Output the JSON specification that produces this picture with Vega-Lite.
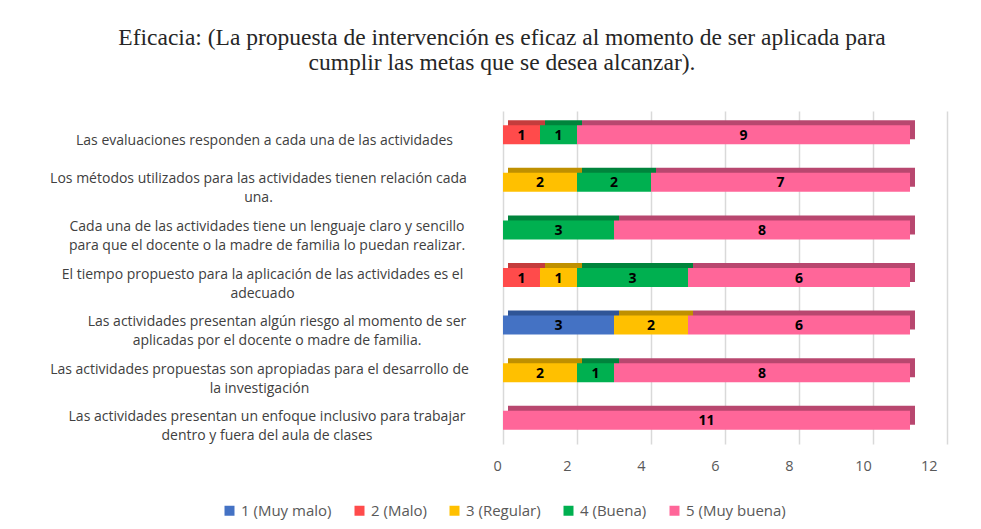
{
  "$schema": "https://vega.github.io/schema/vega-lite/v6.json",
  "autosize": {"type": "none"},
  "padding": {"left": 503, "top": 111, "right": 34, "bottom": 85},
  "width": 444,
  "height": 333,
  "background": "white",
  "title": {
    "text": ["Eficacia: (La propuesta de intervención es eficaz al momento de ser aplicada para", "cumplir las metas que se desea alcanzar)."],
    "font": "Liberation Serif",
    "fontSize": 23.5,
    "fontWeight": "normal",
    "color": "#262626",
    "anchor": "middle",
    "frame": "group",
    "dx": -223,
    "lineHeight": 25,
    "offset": 37
  },
  "data": {
    "values": [
      {"cat": "Las evaluaciones responden a cada una de las actividades", "nivel": "2 (Malo)", "lvl": 2, "n": 1},
      {"cat": "Las evaluaciones responden a cada una de las actividades", "nivel": "4 (Buena)", "lvl": 4, "n": 1},
      {"cat": "Las evaluaciones responden a cada una de las actividades", "nivel": "5 (Muy buena)", "lvl": 5, "n": 9},
      {"cat": "Los métodos utilizados para las actividades tienen relación cada|una.", "nivel": "3 (Regular)", "lvl": 3, "n": 2},
      {"cat": "Los métodos utilizados para las actividades tienen relación cada|una.", "nivel": "4 (Buena)", "lvl": 4, "n": 2},
      {"cat": "Los métodos utilizados para las actividades tienen relación cada|una.", "nivel": "5 (Muy buena)", "lvl": 5, "n": 7},
      {"cat": "Cada una de las actividades tiene un lenguaje claro y sencillo|para que el docente o la madre de familia lo puedan realizar.", "nivel": "4 (Buena)", "lvl": 4, "n": 3},
      {"cat": "Cada una de las actividades tiene un lenguaje claro y sencillo|para que el docente o la madre de familia lo puedan realizar.", "nivel": "5 (Muy buena)", "lvl": 5, "n": 8},
      {"cat": "El tiempo propuesto para la aplicación de las actividades es el|adecuado", "nivel": "2 (Malo)", "lvl": 2, "n": 1},
      {"cat": "El tiempo propuesto para la aplicación de las actividades es el|adecuado", "nivel": "3 (Regular)", "lvl": 3, "n": 1},
      {"cat": "El tiempo propuesto para la aplicación de las actividades es el|adecuado", "nivel": "4 (Buena)", "lvl": 4, "n": 3},
      {"cat": "El tiempo propuesto para la aplicación de las actividades es el|adecuado", "nivel": "5 (Muy buena)", "lvl": 5, "n": 6},
      {"cat": "Las actividades presentan algún riesgo al momento de ser|aplicadas por el docente o madre de familia.", "nivel": "1 (Muy malo)", "lvl": 1, "n": 3},
      {"cat": "Las actividades presentan algún riesgo al momento de ser|aplicadas por el docente o madre de familia.", "nivel": "3 (Regular)", "lvl": 3, "n": 2},
      {"cat": "Las actividades presentan algún riesgo al momento de ser|aplicadas por el docente o madre de familia.", "nivel": "5 (Muy buena)", "lvl": 5, "n": 6},
      {"cat": "Las actividades propuestas son apropiadas para el desarrollo de|la investigación", "nivel": "3 (Regular)", "lvl": 3, "n": 2},
      {"cat": "Las actividades propuestas son apropiadas para el desarrollo de|la investigación", "nivel": "4 (Buena)", "lvl": 4, "n": 1},
      {"cat": "Las actividades propuestas son apropiadas para el desarrollo de|la investigación", "nivel": "5 (Muy buena)", "lvl": 5, "n": 8},
      {"cat": "Las actividades presentan un enfoque inclusivo para trabajar|dentro y fuera del aula de clases", "nivel": "5 (Muy buena)", "lvl": 5, "n": 11}
    ]
  },
  "encoding": {
    "y": {
      "field": "cat",
      "type": "nominal",
      "sort": null,
      "title": null,
      "scale": {"paddingInner": 0.5, "paddingOuter": 0.25},
      "axis": {
        "domain": false,
        "ticks": false,
        "grid": false,
        "labelAlign": "center",
        "labelBaseline": "middle",
        "labelPadding": {
          "condition": [
            {"test": "indexof(datum.value, 'Las evaluaciones') === 0", "value": 239},
            {"test": "indexof(datum.value, 'Los m') === 0", "value": 245},
            {"test": "indexof(datum.value, 'Cada una') === 0", "value": 236.5},
            {"test": "indexof(datum.value, 'El tiempo') === 0", "value": 241},
            {"test": "indexof(datum.value, 'Las actividades presentan alg') === 0", "value": 226.5},
            {"test": "indexof(datum.value, 'Las actividades propuestas') === 0", "value": 244}
          ],
          "value": 236.5
        },
        "labelOffset": {
          "condition": {"test": "indexof(datum.value, '|') < 0", "value": 6},
          "value": -3
        },
        "labelLineHeight": 19,
        "labelLimit": 0,
        "labelFont": "Open Sans",
        "labelFontSize": 14,
        "labelColor": "#404040",
        "labelExpr": "split(datum.label, '|')"
      }
    }
  },
  "resolve": {"scale": {"color": "independent"}},
  "layer": [
    {
      "mark": {"type": "bar", "height": 19, "xOffset": 5, "yOffset": -5},
      "encoding": {
        "x": {
          "field": "n",
          "type": "quantitative",
          "stack": "zero",
          "title": null,
          "scale": {"domain": [0, 12]},
          "axis": {
            "values": [0, 2, 4, 6, 8, 10, 12],
            "domain": false,
            "ticks": false,
            "grid": true,
            "gridColor": "#D9D9D9",
            "gridWidth": 1.5,
            "labelFont": "Open Sans",
            "labelFontSize": 14.5,
            "labelColor": "#595959",
            "labelPadding": 15,
            "labelOffset": -10
          }
        },
        "order": {"field": "lvl"},
        "color": {
          "field": "nivel",
          "type": "nominal",
          "legend": null,
          "scale": {
            "domain": ["1 (Muy malo)", "2 (Malo)", "3 (Regular)", "4 (Buena)", "5 (Muy buena)"],
            "range": ["#2F5597", "#C43C3C", "#BF9000", "#00843C", "#B8476F"]
          }
        }
      }
    },
    {
      "mark": {"type": "bar", "height": 19},
      "encoding": {
        "x": {"field": "n", "type": "quantitative", "stack": "zero"},
        "order": {"field": "lvl"},
        "color": {
          "field": "nivel",
          "type": "nominal",
          "scale": {
            "domain": ["1 (Muy malo)", "2 (Malo)", "3 (Regular)", "4 (Buena)", "5 (Muy buena)"],
            "range": ["#4472C4", "#FF4B4B", "#FFC000", "#00B050", "#FF6699"]
          },
          "legend": {
            "title": null,
            "orient": "none",
            "direction": "horizontal",
            "legendX": -281,
            "legendY": 392,
            "symbolType": "square",
            "symbolSize": 100,
            "symbolStrokeWidth": 0,
            "labelFont": "Open Sans",
            "labelFontSize": 15,
            "labelColor": "#595959",
            "labelOffset": 4,
            "columnPadding": 20
          }
        }
      }
    },
    {
      "transform": [
        {"stack": "n", "groupby": ["cat"], "sort": [{"field": "lvl"}], "as": ["x0", "x1"]},
        {"calculate": "(datum.x0 + datum.x1) / 2", "as": "mid"}
      ],
      "mark": {"type": "text", "font": "Open Sans", "fontWeight": "bold", "fontSize": 14, "color": "#000000", "baseline": "middle", "dy": 1},
      "encoding": {
        "x": {"field": "mid", "type": "quantitative"},
        "text": {"field": "n", "type": "quantitative"}
      }
    }
  ],
  "config": {
    "view": {"stroke": null}
  }
}
